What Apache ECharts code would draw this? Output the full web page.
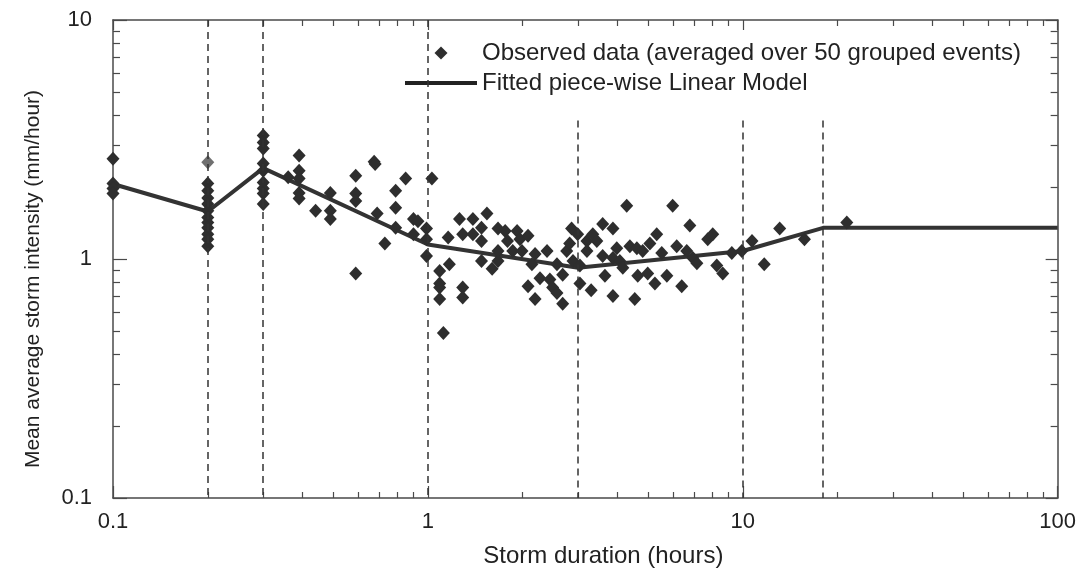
<!DOCTYPE html>
<html><head><meta charset="utf-8">
<script src="https://cdn.jsdelivr.net/npm/echarts@6/dist/echarts.min.js"></script>
<style>html,body{margin:0;padding:0;background:#fff}#c{width:1079px;height:574px}</style>
</head><body><div id="c"></div>
<script>
// ---- data ----
const observed = [
 [0.1,2.63],[0.1,2.07],[0.1,1.97],[0.1,1.88],
 [0.2,2.07],[0.2,1.93],[0.2,1.80],[0.2,1.70],[0.2,1.59],[0.2,1.49],[0.2,1.42],[0.2,1.35],[0.2,1.27],[0.2,1.21],[0.2,1.13],
 [0.3,3.29],[0.3,3.07],[0.3,2.90],[0.3,2.51],[0.3,2.34],[0.3,2.09],[0.3,1.97],[0.3,1.88],[0.3,1.70],
 [0.36,2.2],
 [0.39,2.71],[0.39,2.34],[0.39,2.17],[0.39,1.89],[0.39,1.79],
 [0.44,1.59],
 [0.49,1.89],[0.49,1.59],[0.49,1.47],
 [0.59,2.23],[0.59,1.88],[0.59,1.75],[0.59,0.87],
 [0.675,2.55],[0.68,2.5],
 [0.69,1.55],[0.73,1.16],
 [0.79,1.93],[0.79,1.64],[0.79,1.35],
 [0.85,2.17],
 [0.90,1.47],[0.90,1.27],[0.93,1.44],
 [0.99,1.34],[0.99,1.21],[0.99,1.03],
 [1.03,2.17],
 [1.09,0.89],[1.09,0.79],[1.09,0.76],[1.09,0.68],
 [1.12,0.49],
 [1.16,1.23],[1.17,0.95],
 [1.26,1.47],[1.29,1.27],[1.29,0.76],[1.29,0.69],
 [1.39,1.47],[1.39,1.27],
 [1.48,1.35],[1.48,1.19],[1.48,0.98],
 [1.54,1.55],[1.60,0.91],
 [1.67,1.08],[1.67,1.34],[1.67,0.98],
 [1.76,1.31],[1.79,1.19],[1.86,1.08],[1.92,1.31],[1.96,1.21],[1.99,1.08],
 [2.08,1.25],[2.08,0.77],[2.14,0.95],[2.19,1.05],[2.19,0.68],[2.27,0.83],
 [2.39,1.08],[2.44,0.82],[2.49,0.76],[2.57,0.95],[2.57,0.72],[2.68,0.86],[2.68,0.65],
 [2.76,1.08],[2.82,1.16],[2.86,1.34],[2.89,0.98],[2.99,1.27],
 [3.04,0.94],[3.04,0.79],[3.2,1.19],[3.2,1.08],[3.3,0.74],[3.34,1.27],[3.44,1.19],
 [3.59,1.40],[3.59,1.03],[3.65,0.85],[3.87,1.34],[3.87,1.01],[3.87,0.70],
 [3.98,1.11],[4.07,0.98],[4.16,0.92],[4.28,1.67],[4.38,1.13],[4.54,0.68],[4.61,1.11],[4.64,0.85],
 [4.81,1.08],[4.99,0.87],[5.07,1.16],[5.26,0.79],[5.33,1.27],[5.53,1.06],[5.74,0.85],[5.99,1.67],
 [6.17,1.13],[6.40,0.77],[6.64,1.08],[6.79,1.38],[6.94,1.01],[7.15,0.96],[7.74,1.21],[8.03,1.27],
 [8.27,0.94],[8.64,0.87],[9.23,1.06],[9.93,1.08],[10.7,1.19],[11.7,0.95],[13.1,1.34],[15.7,1.21],[21.4,1.42]
];
const observedGrey = [[0.2,2.54]];
const modelX = [0.1, 0.2, 0.3, 1, 3, 10, 18, 100];
const modelY = [2.06, 1.58, 2.4, 1.15, 0.92, 1.08, 1.35, 1.35];
const breakX = [0.2, 0.3, 1, 3, 10, 18];
const breakTop = [10, 10, 10, 3.8, 3.8, 3.8];
const xMajor = [0.1, 1, 10, 100];
const xMinor = [0.2,0.3,0.4,0.5,0.6,0.7,0.8,0.9,2,3,4,5,6,7,8,9,20,30,40,50,60,70,80,90];
const yMajor = [0.1, 1, 10];
const yMinor = [0.2,0.3,0.4,0.5,0.6,0.7,0.8,0.9,2,3,4,5,6,7,8,9];
const xTitle = 'Storm duration (hours)';
const yTitle = 'Mean average storm intensity (mm/hour)';
const obsName = 'Observed data (averaged over 50 grouped events)';
const fitName = 'Fitted piece-wise Linear Model';

// ---- chart ----
const FONT = "'Liberation Sans', Arial, sans-serif";
const AX = '#4a4a4a';
const TXT = '#222';
const MARK = '#2e2e2e';
const fmt = v => v < 1 ? Number(v).toFixed(1) : String(Math.round(v));

function xAx(pos, ticks, len, opts) {
  return Object.assign({
    type: 'log', logBase: 10, min: 0.1, max: 100, position: pos, gridIndex: 0,
    axisLine: { show: true, lineStyle: { color: AX, width: 1.5 } },
    axisTick: { show: true, inside: true, length: len, customValues: ticks, lineStyle: { color: AX, width: 1.2 } },
    axisLabel: { show: false },
    splitLine: { show: false }, minorTick: { show: false }, minorSplitLine: { show: false }
  }, opts || {});
}
function yAx(pos, ticks, len, opts) {
  return Object.assign({
    type: 'log', logBase: 10, min: 0.1, max: 10, position: pos, gridIndex: 0,
    axisLine: { show: true, lineStyle: { color: AX, width: 1.5 } },
    axisTick: { show: true, inside: true, length: len, customValues: ticks, lineStyle: { color: AX, width: 1.2 } },
    axisLabel: { show: false },
    splitLine: { show: false }, minorTick: { show: false }, minorSplitLine: { show: false }
  }, opts || {});
}

const chart = echarts.init(document.getElementById('c'), null, { renderer: 'canvas' });
chart.setOption({
  animation: false,
  backgroundColor: '#fff',
  textStyle: { fontFamily: FONT },
  grid: { left: 113, right: 21, top: 20, bottom: 76, containLabel: false },
  legend: {
    left: 405, top: 41, padding: 0, orient: 'vertical', itemWidth: 72, itemHeight: 13, itemGap: 6,
    textStyle: { fontFamily: FONT, fontSize: 24, color: TXT },
    selectedMode: false,
    data: [
      { name: obsName, icon: 'path://M0,-10L10,0L0,10L-10,0Z', itemStyle: { color: MARK, opacity: 1 } },
      { name: fitName, icon: 'path://M0,0L72,0L72,4L0,4Z', itemStyle: { color: '#222', opacity: 1 } }
    ]
  },
  xAxis: [
    xAx('bottom', xMajor, 12, {
      axisLabel: { show: true, customValues: xMajor, margin: 13, formatter: fmt, fontFamily: FONT, fontSize: 22, color: TXT },
      name: xTitle, nameLocation: 'middle', nameGap: 46,
      nameTextStyle: { fontFamily: FONT, fontSize: 24, color: TXT, padding: [0, 0, 0, 36] }
    }),
    xAx('bottom', xMinor, 6, { axisLine: { show: false } }),
    xAx('top', xMinor, 6),
    xAx('top', xMajor, 10, { axisLine: { show: false } })
  ],
  yAxis: [
    yAx('left', yMajor, 14, {
      axisLabel: { show: true, customValues: yMajor, margin: 21, formatter: fmt, fontFamily: FONT, fontSize: 22, color: TXT },
      name: yTitle, nameLocation: 'middle', nameGap: 69, nameRotate: 90,
      nameTextStyle: { fontFamily: FONT, fontSize: 21, color: TXT, padding: [0, 40, 0, 0] }
    }),
    yAx('left', yMinor, 7, { axisLine: { show: false } }),
    yAx('right', yMinor, 7),
    yAx('right', yMajor, 12, { axisLine: { show: false } })
  ],
  series: [
    {
      name: fitName, type: 'line', xAxisIndex: 0, yAxisIndex: 0,
      data: modelX.map((x, i) => [x, modelY[i]]),
      symbol: 'none', z: 3,
      lineStyle: { color: '#333', width: 4 }, itemStyle: { color: '#333' },
      markLine: {
        silent: true, symbol: ['none', 'none'], animation: false,
        label: { show: false },
        lineStyle: { color: '#333', width: 1.5, type: [7, 5] },
        data: breakX.map((x, i) => [{ coord: [x, breakTop[i]] }, { coord: [x, 0.1] }])
      }
    },
    {
      name: obsName, type: 'scatter', xAxisIndex: 0, yAxisIndex: 0,
      symbol: 'diamond', symbolSize: [13, 14], z: 4,
      itemStyle: { color: MARK, opacity: 1 },
      data: observed.concat(observedGrey.map(p => ({ value: p, itemStyle: { color: '#707070', opacity: 1 } })))
    }
  ]
});
</script>
</body></html>
